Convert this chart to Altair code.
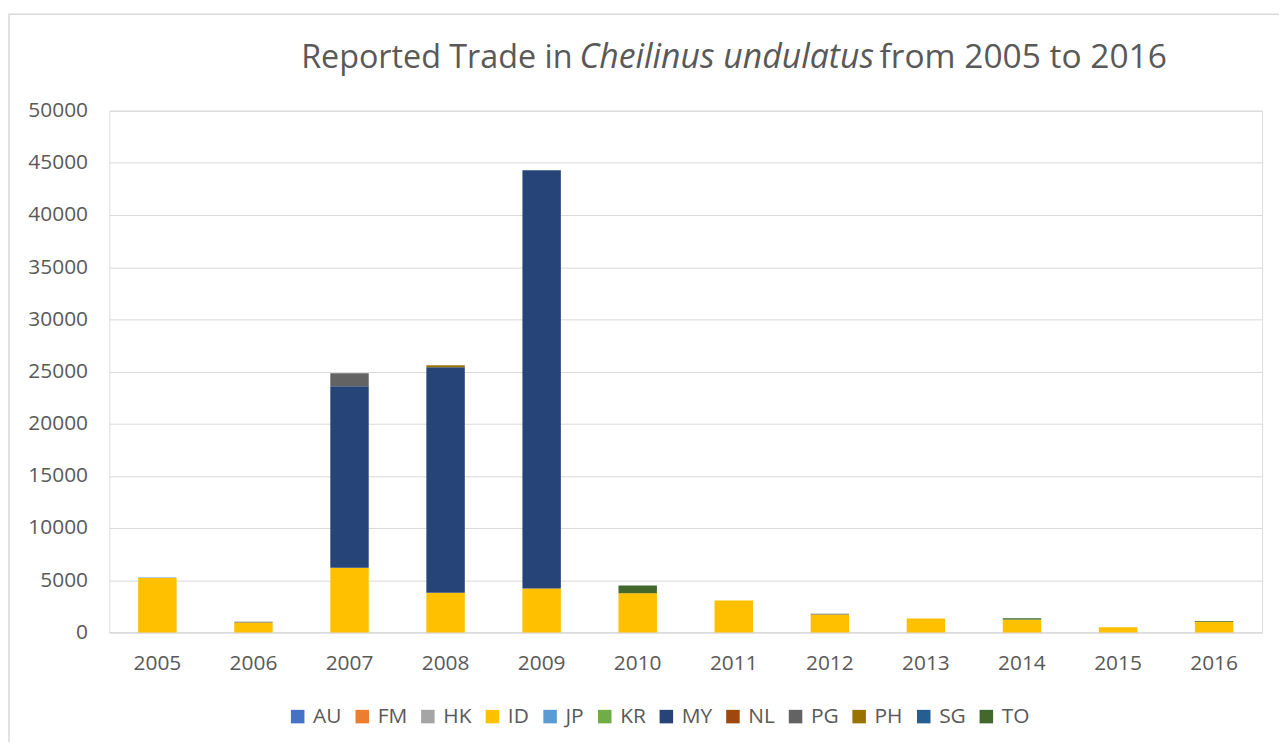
import altair as alt
import pandas as pd

years = ["2005", "2006", "2007", "2008", "2009", "2010", "2011", "2012", "2013", "2014", "2015", "2016"]
series = ["AU", "FM", "HK", "ID", "JP", "KR", "MY", "NL", "PG", "PH", "SG", "TO"]
colors = ["#4472C4", "#ED7D31", "#A5A5A5", "#FFC000", "#5B9BD5", "#70AD47",
          "#264478", "#9E480E", "#636363", "#997300", "#255E91", "#43682B"]

AU = [0, 0, 0, 0, 0, 0, 0, 0, 0, 0, 0, 0]
FM = [0, 0, 0, 0, 0, 0, 0, 0, 0, 0, 0, 0]
HK = [0, 0, 0, 0, 0, 0, 0, 0, 0, 0, 0, 0]
ID = [5200, 950, 6200, 3800, 4200, 3760, 3060, 1720, 1340, 1180, 480, 1020]
JP = [50, 0, 0, 0, 0, 0, 0, 0, 0, 0, 0, 0]
KR = [0, 0, 0, 0, 0, 0, 0, 0, 0, 50, 0, 0]
MY = [0, 0, 17400, 21600, 40100, 0, 0, 0, 0, 0, 0, 0]
NL = [0, 0, 0, 0, 0, 0, 0, 0, 0, 0, 0, 0]
PG = [0, 60, 1230, 0, 0, 0, 0, 60, 0, 0, 0, 0]
PH = [0, 0, 0, 190, 0, 0, 0, 0, 0, 0, 0, 0]
SG = [0, 0, 0, 0, 0, 0, 0, 0, 0, 0, 0, 0]
TO = [0, 0, 0, 0, 0, 730, 0, 0, 0, 120, 0, 70]

values = [AU, FM, HK, ID, JP, KR, MY, NL, PG, PH, SG, TO]
y_ticks = [0, 5000, 10000, 15000, 20000, 25000, 30000, 35000, 40000, 45000, 50000]

rows = []
for i, (s, vals) in enumerate(zip(series, values)):
    for y, v in zip(years, vals):
        rows.append({"Year": y, "Country": s, "Value": v, "idx": i})
df = pd.DataFrame(rows)

FONT = "Open Sans"
GREY = "#595959"
W, H = 1160, 525

bars = alt.Chart(df).mark_bar().encode(
    x=alt.X("Year:N", sort=years,
            scale=alt.Scale(paddingInner=0.6, paddingOuter=0.3),
            axis=alt.Axis(title=None, labelAngle=0, labelFontSize=21, labelColor=GREY,
                          labelFont=FONT, ticks=False, domainColor="#d9d9d9",
                          labelPadding=20, grid=False)),
    y=alt.Y("Value:Q", stack="zero",
            scale=alt.Scale(domain=[0, 50000], nice=False),
            axis=alt.Axis(title=None, values=y_ticks, format="d", labelFontSize=21,
                          labelColor=GREY, labelFont=FONT, ticks=False, domain=False,
                          gridColor="#d9d9d9", gridWidth=1, labelPadding=22)),
    color=alt.Color("Country:N", sort=series,
                    scale=alt.Scale(domain=series, range=colors),
                    legend=alt.Legend(title=None, orient="none", legendX=179, legendY=599,
                                      direction="horizontal", columns=12,
                                      symbolType="square", symbolSize=185,
                                      symbolStrokeWidth=0, labelFontSize=21,
                                      labelFont=FONT, labelColor=GREY,
                                      labelOffset=5, columnPadding=10, padding=0)),
    order=alt.Order("idx:Q", sort="ascending"),
).transform_filter(alt.datum.Value > 0)

one = pd.DataFrame({"a": [0]})

border = alt.Chart(one).mark_rect(fill=None, stroke="#d9d9d9", strokeWidth=1.5).encode(
    x=alt.value(-101), x2=alt.value(W + 60), y=alt.value(-97), y2=alt.value(H + 200)
)

t1 = alt.Chart(one).mark_text(text="Reported Trade in", font=FONT, fontSize=32.5,
                              color=GREY, align="left", baseline="alphabetic").encode(
    x=alt.value(193), y=alt.value(-43))
t2 = alt.Chart(one).mark_text(text="Cheilinus undulatus", font=FONT, fontSize=34,
                              fontStyle="italic", color=GREY, align="left",
                              baseline="alphabetic").encode(
    x=alt.value(473), y=alt.value(-43))
t3 = alt.Chart(one).mark_text(text="from 2005 to 2016", font=FONT, fontSize=33.7,
                              color=GREY, align="left", baseline="alphabetic").encode(
    x=alt.value(775), y=alt.value(-43))

chart = alt.layer(border, bars, t1, t2, t3).properties(
    width=W, height=H,
    padding={"left": 102, "top": 101, "right": 17, "bottom": 108},
    autosize=alt.AutoSizeParams(type="none"),
).configure_view(stroke=None).configure(background="white")

chart.save("out.html", embed_options={"renderer": "svg", "actions": False})
